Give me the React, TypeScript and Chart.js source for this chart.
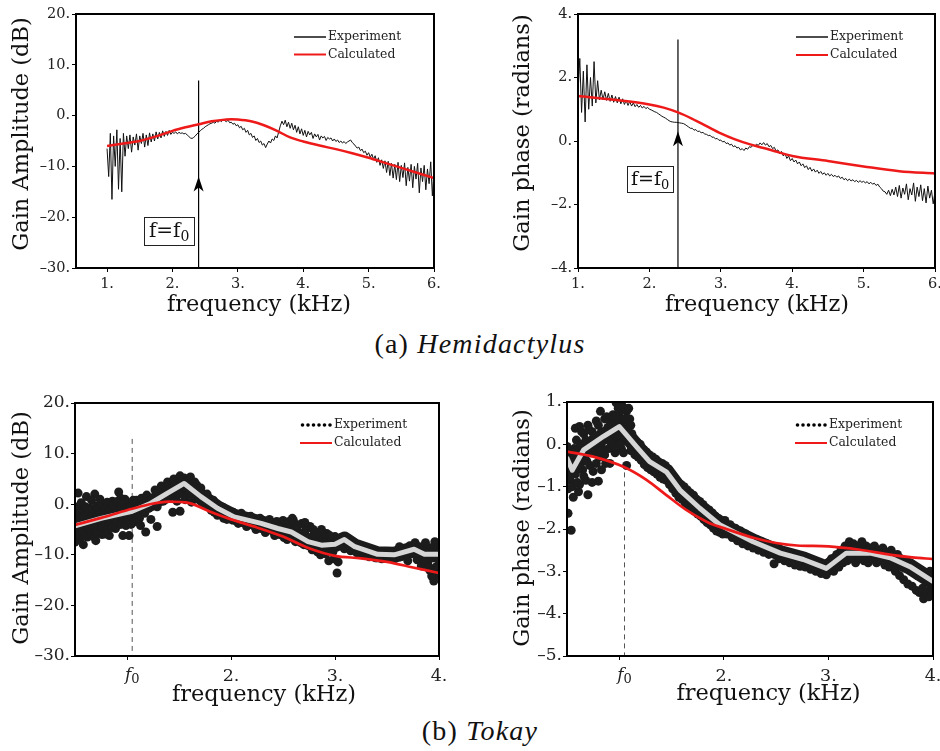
import React, { useEffect, useRef } from "react";
import { Chart, registerables } from "chart.js";

Chart.register(...registerables);

// ---------------- DATA ----------------
// (a) Hemidactylus — measured frequency grid (kHz)
const hemiFreq = [
  1, 1.025, 1.05, 1.075, 1.1, 1.125, 1.15, 1.175, 1.2, 1.225, 1.25, 1.275, 1.3, 1.325, 1.35, 1.375, 1.4, 1.425, 1.45, 1.475,
  1.5, 1.525, 1.55, 1.575, 1.6, 1.625, 1.65, 1.675, 1.7, 1.725, 1.75, 1.775, 1.8, 1.825, 1.85, 1.875, 1.9, 1.925, 1.95, 1.975,
  2, 2.025, 2.05, 2.075, 2.1, 2.125, 2.15, 2.175, 2.2, 2.225, 2.25, 2.275, 2.3, 2.325, 2.35, 2.375, 2.4, 2.425, 2.45, 2.475,
  2.5, 2.525, 2.55, 2.575, 2.6, 2.625, 2.65, 2.675, 2.7, 2.725, 2.75, 2.775, 2.8, 2.825, 2.85, 2.875, 2.9, 2.925, 2.95, 2.975,
  3, 3.025, 3.05, 3.075, 3.1, 3.125, 3.15, 3.175, 3.2, 3.225, 3.25, 3.275, 3.3, 3.325, 3.35, 3.375, 3.4, 3.425, 3.45, 3.475,
  3.5, 3.525, 3.55, 3.575, 3.6, 3.625, 3.65, 3.675, 3.7, 3.725, 3.75, 3.775, 3.8, 3.825, 3.85, 3.875, 3.9, 3.925, 3.95, 3.975,
  4, 4.025, 4.05, 4.075, 4.1, 4.125, 4.15, 4.175, 4.2, 4.225, 4.25, 4.275, 4.3, 4.325, 4.35, 4.375, 4.4, 4.425, 4.45, 4.475,
  4.5, 4.525, 4.55, 4.575, 4.6, 4.625, 4.65, 4.675, 4.7, 4.725, 4.75, 4.775, 4.8, 4.825, 4.85, 4.875, 4.9, 4.925, 4.95, 4.975,
  5, 5.025, 5.05, 5.075, 5.1, 5.125, 5.15, 5.175, 5.2, 5.225, 5.25, 5.275, 5.3, 5.325, 5.35, 5.375, 5.4, 5.425, 5.45, 5.475,
  5.5, 5.525, 5.55, 5.575, 5.6, 5.625, 5.65, 5.675, 5.7, 5.725, 5.75, 5.775, 5.8, 5.825, 5.85, 5.875, 5.9, 5.925, 5.95, 5.975,
  6,
];

const hemiAmpExp = [
  -6.5, -12, -3.5, -16.5, -4, -10, -2.8, -14.5, -4.5, -15, -3.5, -8, -4, -6.5, -3.8, -7.2, -4.2, -5.8, -3.6, -6.8,
  -4.0, -5.5, -3.5, -6.2, -3.8, -5.9, -3.4, -5.2, -3.6, -5.0, -3.2, -4.6, -3.3, -4.4, -3.0, -4.1, -3.1, -3.9, -2.9, -3.7,
  -3.3, -3.5, -3.2, -3.6, -3.3, -3.5, -3.4, -3.6, -3.5, -3.8, -4.1, -4.4, -4.5, -4.3, -4.0, -3.6, -3.3, -3.0, -2.7, -2.5,
  -2.2, -2.0, -1.8, -1.6, -1.5, -1.3, -1.5, -1.1, -1.3, -0.9, -1.2, -0.7, -1.0, -1.2, -0.9, -1.4, -1.3, -1.7, -1.5, -2.0,
  -1.8, -2.4, -2.1, -2.8, -2.5, -3.3, -2.9, -3.8, -3.5, -4.3, -4.0, -4.9, -4.5, -5.3, -5.0, -5.8, -5.5, -6.3, -5.6, -5.0,
  -5.4, -4.6, -4.9, -4.0, -4.4, -3.2, -2.0, -1.1, -1.8, -0.9, -2.2, -1.3, -2.5, -1.5, -2.8, -1.9, -3.3, -2.2, -3.6, -2.6,
  -3.9, -2.9, -4.2, -3.1, -3.8, -3.3, -4.5, -3.6, -4.2, -3.7, -4.8, -4.0, -4.4, -4.1, -4.9, -4.3, -4.6, -4.4, -5.0, -4.6,
  -5.1, -4.8, -5.3, -5.0, -5.4, -5.1, -5.5, -5.2, -5.0, -4.8, -5.3, -5.6, -6.0, -6.4, -6.2, -6.9, -6.6, -7.3, -7.0, -7.8,
  -7.3, -8.2, -7.6, -8.6, -7.9, -9.2, -8.3, -9.8, -8.7, -10.4, -8.9, -11.2, -9.0, -11.8, -9.4, -12.3, -9.6, -12.6, -9.2, -13.0,
  -9.8, -12.2, -9.3, -13.8, -10.2, -12.9, -9.6, -14.2, -10.0, -12.5, -9.4, -15.2, -10.3, -13.0, -9.8, -14.6, -10.5, -13.4, -9.1, -15.8,
  -10.5,
];

const hemiPhaseExp = [
  1.5, 2.6, 0.9, 2.2, 0.6, 2.4, 1.0, 2.0, 1.1, 2.5, 1.2, 1.9, 1.3, 1.6, 1.3, 1.55, 1.28, 1.5, 1.25, 1.45,
  1.22, 1.4, 1.2, 1.38, 1.17, 1.33, 1.15, 1.28, 1.12, 1.24, 1.1, 1.2, 1.08, 1.15, 1.06, 1.12, 1.04, 1.09, 1.02, 1.06,
  1.0, 0.98, 0.95, 0.92, 0.9, 0.86, 0.82, 0.78, 0.75, 0.72, 0.68, 0.64, 0.61, 0.6, 0.59, 0.59, 0.58, 0.57, 0.56, 0.55,
  0.52, 0.48, 0.44, 0.4, 0.4, 0.34, 0.36, 0.3, 0.31, 0.26, 0.27, 0.22, 0.21, 0.17, 0.18, 0.12, 0.12, 0.07, 0.08, 0.02,
  0.03, -0.03, -0.01, -0.08, -0.06, -0.13, -0.1, -0.18, -0.15, -0.22, -0.2, -0.28, -0.24, -0.3, -0.22, -0.26, -0.18, -0.2, -0.13, -0.16,
  -0.1, -0.14, -0.06, -0.12, -0.05, -0.13, -0.08, -0.18, -0.14, -0.24, -0.2, -0.32, -0.28, -0.4, -0.33, -0.47, -0.4, -0.55, -0.47, -0.62,
  -0.55, -0.66, -0.6, -0.72, -0.66, -0.78, -0.72, -0.84, -0.78, -0.9, -0.83, -0.95, -0.88, -0.98, -0.92, -1.02, -0.96, -1.05, -1.0, -1.08,
  -1.02, -1.1, -1.05, -1.12, -1.08, -1.14, -1.1, -1.18, -1.14, -1.22, -1.18, -1.25, -1.2, -1.26, -1.22, -1.28, -1.24, -1.3, -1.25, -1.3,
  -1.27, -1.32, -1.28, -1.35, -1.3, -1.36, -1.33, -1.4, -1.36, -1.45, -1.5, -1.58, -1.6, -1.68, -1.55, -1.72, -1.52, -1.7, -1.45, -1.75,
  -1.4, -1.8, -1.48, -1.68, -1.35, -1.85, -1.5, -1.7, -1.32, -1.9, -1.45, -1.75, -1.38, -1.88, -1.5, -1.95, -1.42, -1.8, -1.55, -1.98,
  -1.6,
];

const hemiAmpCalcFreq = [1.0, 1.25, 1.5, 1.75, 2.0, 2.2, 2.4, 2.6, 2.8, 2.9, 3.0, 3.2, 3.4, 3.6, 3.8, 4.0, 4.25, 4.5, 4.75, 5.0, 5.25, 5.5, 5.75, 6.0];
const hemiAmpCalc = [-6.0, -5.5, -5.0, -4.1, -3.0, -2.3, -1.7, -1.1, -0.8, -0.7, -0.75, -1.1, -1.9, -3.0, -4.3, -5.1, -5.9, -6.6, -7.4, -8.3, -9.3, -10.3, -11.3, -12.3];

const hemiPhaseCalcFreq = [1.0, 1.5, 2.0, 2.2, 2.4, 2.6, 2.8, 3.0, 3.2, 3.4, 3.6, 3.8, 4.0, 4.5, 5.0, 5.5, 6.0];
const hemiPhaseCalc = [1.42, 1.3, 1.15, 1.05, 0.9, 0.7, 0.47, 0.24, 0.05, -0.1, -0.22, -0.35, -0.47, -0.63, -0.8, -0.95, -1.02];

const hemiF0 = 2.4;
const hemiAmpArrow = { top: 6.9, tip: -12.0, boxX: 1.95, boxY: -22.7 };
const hemiPhaseArrow = { top: 3.2, tip: 0.31, boxX: 2.01, boxY: -1.2 };

// (b) Tokay
const tokayF0 = 1.05;
const tokayAmpTrendFreq = [0.5, 0.75, 1.05, 1.23, 1.39, 1.55, 1.71, 1.87, 2.03, 2.29, 2.45, 2.58, 2.74, 2.87, 3.0, 3.09, 3.19, 3.41, 3.57, 3.76, 3.86, 4.0];
const tokayAmpTrend = [-4.3, -2.8, -1.4, 0.2, 2.2, 4.1, 1.5, -0.8, -2.5, -3.8, -4.8, -5.5, -7.4, -8.1, -7.9, -7.0, -8.4, -9.9, -10.0, -8.9, -9.9, -9.9];
const tokayAmpCalcFreq = [0.5, 0.75, 1.0, 1.2, 1.4, 1.6, 1.8, 2.0, 2.25, 2.5, 2.75, 3.0, 3.25, 3.5, 3.75, 4.0];
const tokayAmpCalc = [-4.1, -2.7, -1.2, -0.1, 0.5, 0.2, -1.5, -3.0, -4.6, -6.4, -8.7, -10.2, -10.7, -11.4, -12.5, -13.6];
const tokayAmpDots: [number, number][] = [
  [0.5, -7.5], [0.51, -2.0], [0.52, -5.5], [0.53, 2.2], [0.53, -0.5], [0.55, -6.8], [0.56, -3.5], [0.58, -8.0], [0.59, -1.5], [0.61, 1.5],
  [0.61, -4.8], [0.62, -6.5], [0.64, -2.5], [0.65, -0.8], [0.67, -5.8], [0.68, -3.0], [0.69, 2.0], [0.7, -7.2], [0.71, -1.2], [0.73, -4.0],
  [0.74, 1.0], [0.76, -6.0], [0.77, -2.2], [0.79, -5.9], [0.79, -0.2], [0.8, -4.6], [0.82, -1.6], [0.83, -6.2], [0.85, -3.2], [0.86, 0.6],
  [0.88, -2.0], [0.89, -4.8], [0.91, -0.8], [0.92, 2.4], [0.92, -2.8], [0.94, 1.2], [0.95, -3.6], [0.96, -6.2], [0.97, -1.4], [0.99, -0.2],
  [1.0, -3.4], [1.02, -6.2], [1.02, 0.2], [1.03, -2.6], [1.05, -1.2], [1.07, -3.5], [1.09, 0.8], [1.11, -2.0], [1.13, -4.2], [1.15, 0.0],
  [0.5, -4.5], [0.5, -1.0], [0.51, -6.2], [0.52, -3.2], [0.53, -4.8], [0.54, -1.8], [0.55, -3.0], [0.56, 0.3], [0.57, -5.2], [0.58, -2.6],
  [0.59, -4.2], [0.6, -6.0], [0.6, -0.5], [0.62, -3.6], [0.63, -1.2], [0.64, -5.0], [0.65, -3.4], [0.66, 0.8], [0.67, -2.0], [0.68, -4.6],
  [0.69, -6.6], [0.7, -2.8], [0.71, -0.4], [0.72, -5.4], [0.73, -2.0], [0.75, -3.2], [0.75, 0.2], [0.76, -4.6], [0.78, -1.0], [0.78, -3.4],
  [0.8, -2.2], [0.81, 0.4], [0.81, -5.0], [0.83, -3.0], [0.84, -1.0], [0.86, -2.4], [0.86, -4.6], [0.87, -0.4], [0.89, -1.4], [0.9, -3.2],
  [0.91, 0.6], [0.93, -1.8], [0.94, -4.0], [0.95, -0.6], [0.97, -2.6], [0.98, 1.0], [0.99, -4.2], [1.0, -1.6], [1.01, -2.8], [1.03, -0.6],
  [1.04, -4.0], [1.06, 0.8], [1.08, -1.8], [1.1, -0.6], [1.12, -2.8], [1.14, 1.2], [1.16, -0.8],
  [1.17, -1.8], [1.18, -5.5], [1.19, 1.8], [1.21, -0.8], [1.23, -3.0], [1.25, 1.2], [1.27, 2.8], [1.29, -4.4], [1.29, -0.5], [1.31, 1.8],
  [1.33, 3.6], [1.35, 0.6], [1.37, 2.6], [1.39, 4.4], [1.41, 1.4], [1.43, 3.4], [1.44, -1.6], [1.45, 5.0], [1.47, 2.2], [1.48, 0.6],
  [1.49, 4.0], [1.51, 5.6], [1.51, -1.4], [1.53, 2.8], [1.55, 5.2], [1.56, 0.9], [1.57, 1.8], [1.59, 4.6], [1.61, 5.4], [1.62, 0.4],
  [1.63, 2.2], [1.65, 4.4], [1.67, 3.8], [1.69, 1.0], [1.71, 3.2], [1.73, 1.8], [1.75, -0.2], [1.77, 2.0], [1.79, 0.6], [1.81, -1.2],
  [1.83, 0.8], [1.85, -0.6], [1.87, -2.2], [1.89, -0.4], [1.91, -1.6], [1.93, -2.8], [1.95, -1.4], [1.97, -2.4],
  [1.22, 0.6], [1.26, 0.0], [1.3, 2.4], [1.34, 1.8], [1.38, 1.0], [1.42, 2.6], [1.46, 3.6], [1.5, 2.0], [1.52, 4.4], [1.54, 3.6],
  [1.58, 3.0], [1.6, 2.2], [1.64, 3.2], [1.68, 2.6], [1.72, 0.4], [1.76, 1.0], [1.8, -0.2], [1.84, -1.6], [1.88, -1.2], [1.92, -0.6], [1.96, -3.0],
  [2.02, -1.6], [2.05, -3.2], [2.08, -2.2], [2.11, -3.6], [2.14, -2.8], [2.17, -4.0], [2.2, -3.0], [2.23, -4.4], [2.26, -3.4], [2.29, -4.8],
  [2.32, -3.6], [2.35, -5.0], [2.38, -3.8], [2.41, -5.4], [2.44, -3.4], [2.47, -6.0], [2.5, -3.2], [2.52, -5.2], [2.54, -7.0], [2.56, -3.4],
  [2.58, -5.8], [2.6, -3.2], [2.62, -7.4], [2.64, -4.2], [2.66, -6.2], [2.68, -3.8], [2.7, -8.0], [2.72, -5.0], [2.74, -6.6], [2.76, -4.4],
  [2.78, -9.0], [2.8, -6.0], [2.82, -7.6], [2.84, -5.6], [2.86, -10.0], [2.88, -6.6], [2.9, -8.6], [2.92, -5.8], [2.94, -11.2], [2.96, -7.0],
  [2.98, -9.4], [3.0, -6.4], [3.02, -13.6], [3.04, -8.2],
  [2.03, -2.8], [2.07, -3.8], [2.1, -1.8], [2.15, -4.4], [2.19, -2.4], [2.24, -5.0], [2.28, -2.8], [2.33, -5.6], [2.37, -3.0], [2.42, -6.2],
  [2.46, -4.4], [2.51, -6.6], [2.55, -5.0], [2.59, -2.8], [2.63, -5.8], [2.67, -7.6], [2.71, -3.6], [2.75, -8.2], [2.79, -5.0], [2.83, -9.4],
  [2.87, -5.0], [2.91, -9.8], [2.95, -6.2], [2.99, -10.8], [3.01, -7.4], [3.03, -11.4],
  [3.06, -6.6], [3.09, -8.8], [3.12, -7.8], [3.15, -9.2], [3.18, -8.0], [3.21, -9.6],
  [3.24, -8.6], [3.27, -10.0], [3.3, -9.0], [3.33, -10.4], [3.36, -9.4], [3.39, -10.6], [3.42, -9.6], [3.45, -10.8], [3.48, -9.8], [3.51, -10.6],
  [3.54, -9.6], [3.57, -10.8], [3.6, -9.4], [3.63, -10.4], [3.66, -8.8], [3.69, -10.0], [3.72, -8.2], [3.75, -9.8], [3.77, -7.6], [3.79, -11.0],
  [3.81, -8.4], [3.83, -12.2], [3.85, -9.2], [3.87, -7.6], [3.89, -11.6], [3.91, -13.0], [3.92, -8.6], [3.94, -10.6], [3.95, -15.2], [3.96, -7.4],
  [3.97, -12.4], [3.98, -9.0], [3.99, -14.0], [4.0, -7.8], [4.0, -11.2],
  [3.62, -8.4], [3.7, -11.2], [3.78, -9.0], [3.84, -10.6], [3.88, -9.6], [3.9, -12.4], [3.93, -14.2], [3.96, -10.0], [3.99, -12.8], [4.0, -9.6],
];

const tokayPhaseTrendFreq = [0.5, 0.55, 0.66, 0.85, 1.0, 1.07, 1.18, 1.29, 1.45, 1.58, 1.77, 1.96, 2.28, 2.54, 2.76, 2.98, 3.17, 3.4, 3.59, 3.78, 4.0];
const tokayPhaseTrend = [-0.33, -0.61, -0.13, 0.19, 0.42, 0.22, -0.1, -0.41, -0.65, -1.08, -1.51, -1.9, -2.3, -2.57, -2.72, -2.93, -2.57, -2.57, -2.68, -2.89, -3.24];
const tokayPhaseCalcFreq = [0.5, 0.75, 1.04, 1.26, 1.45, 1.64, 1.87, 2.0, 2.3, 2.5, 2.7, 3.0, 3.3, 3.6, 3.8, 4.0];
const tokayPhaseCalc = [-0.17, -0.29, -0.53, -0.84, -1.2, -1.55, -1.87, -1.98, -2.22, -2.33, -2.39, -2.41, -2.49, -2.61, -2.67, -2.71];
const tokayPhaseDots: [number, number][] = [
  [0.5, -0.05], [0.5, -0.55], [0.51, -1.05], [0.51, -1.63], [0.52, -0.3], [0.53, -0.85], [0.54, -2.03], [0.55, -0.45], [0.56, -1.25], [0.57, -0.1],
  [0.58, 0.38], [0.58, -0.7], [0.6, -0.35], [0.61, -1.12], [0.62, 0.42], [0.62, -0.95], [0.63, 0.0], [0.65, -0.6], [0.66, 0.25], [0.67, -0.3],
  [0.68, -0.85], [0.7, 0.45], [0.7, -1.19], [0.71, 0.0], [0.72, -0.5], [0.74, 0.3], [0.75, 0.14], [0.75, -0.64], [0.76, -0.2], [0.78, 0.55],
  [0.79, 0.05], [0.8, -0.87], [0.81, -0.3], [0.82, 0.78], [0.83, 0.3], [0.84, -0.1], [0.86, 0.6], [0.87, -0.45], [0.88, 0.15], [0.89, 0.4],
  [0.91, 0.55], [0.91, -0.45], [0.92, 0.05], [0.94, 0.7], [0.95, 0.3], [0.96, -0.2], [0.97, 0.98], [0.98, 0.5], [0.99, 0.1], [1.0, 0.75],
  [1.01, 0.35], [1.02, -0.1], [1.03, 0.6], [1.04, -0.2], [1.05, 0.85], [1.06, 0.3], [1.07, 0.78], [1.07, -0.5], [1.08, 0.1], [1.09, 0.55],
  [1.1, 0.6], [1.11, -0.15],
  [0.52, -0.75], [0.54, -0.15], [0.55, -1.0], [0.57, -0.6], [0.59, 0.1], [0.6, -0.9], [0.63, -0.45], [0.64, 0.3], [0.66, -0.75], [0.68, 0.1],
  [0.69, -0.4], [0.71, 0.35], [0.73, -0.2], [0.74, -0.9], [0.77, 0.2], [0.78, -0.45], [0.8, 0.45], [0.82, -0.15], [0.83, -0.6], [0.85, 0.25],
  [0.86, -0.25], [0.88, 0.65], [0.9, -0.1], [0.9, 0.3], [0.93, 0.45], [0.94, -0.05], [0.96, 0.65], [0.97, 0.2], [0.99, 0.85], [1.0, 0.4],
  [1.01, 0.0], [1.03, 0.9], [1.04, 0.45], [1.06, 0.6], [1.08, 0.35], [1.09, 0.85], [1.1, 0.2], [1.11, 0.45],
  [1.12, 0.25], [1.12, -0.12], [1.14, 0.1], [1.15, -0.25], [1.17, 0.05], [1.18, -0.3], [1.2, 0.0], [1.21, -0.38],
  [1.23, -0.12], [1.24, -0.48], [1.26, -0.18], [1.27, -0.55], [1.29, -0.25], [1.3, -0.6], [1.32, -0.3], [1.33, -0.65], [1.35, -0.35], [1.36, -0.7],
  [1.38, -0.42], [1.39, -0.78], [1.41, -0.45], [1.42, -0.82], [1.44, -0.5], [1.45, -0.85], [1.47, -0.58], [1.48, -0.95], [1.5, -0.7], [1.51, -1.05],
  [1.53, -0.8], [1.54, -1.15], [1.56, -0.9], [1.57, -1.25], [1.59, -0.95], [1.6, -1.3], [1.62, -1.0], [1.63, -1.38], [1.65, -1.08], [1.66, -1.45],
  [1.68, -1.15], [1.69, -1.5], [1.71, -1.2], [1.72, -1.58], [1.74, -1.3], [1.75, -1.65], [1.77, -1.35], [1.78, -1.7], [1.8, -1.42], [1.81, -1.78],
  [1.83, -1.5], [1.84, -1.85], [1.86, -1.55], [1.87, -1.9], [1.89, -1.62], [1.9, -1.98], [1.92, -1.7], [1.93, -2.05], [1.95, -1.75], [1.96, -2.08],
  [1.98, -1.8], [1.99, -2.12], [2.01, -1.8], [2.03, -2.12], [2.06, -1.9], [2.08, -2.2], [2.11, -1.98], [2.13, -2.28], [2.16, -2.05], [2.18, -2.35],
  [2.21, -2.12], [2.23, -2.4], [2.26, -2.2], [2.28, -2.45], [2.31, -2.25], [2.33, -2.5], [2.36, -2.3], [2.38, -2.55], [2.41, -2.35], [2.43, -2.6],
  [2.46, -2.42], [2.48, -2.82], [2.5, -2.45], [2.53, -2.7], [2.55, -2.5], [2.58, -2.75], [2.6, -2.55], [2.63, -2.8], [2.65, -2.6], [2.68, -2.85],
  [2.7, -2.62], [2.73, -2.88], [2.75, -2.65], [2.78, -2.9], [2.8, -2.72], [2.83, -2.95], [2.85, -2.78], [2.88, -3.0], [2.9, -2.82], [2.93, -3.05],
  [2.95, -2.85], [2.98, -3.08], [3.0, -2.85], [3.03, -2.7], [3.05, -3.0], [3.08, -2.6], [3.1, -2.9], [3.12, -2.5], [3.14, -2.8], [3.16, -2.4],
  [3.18, -2.75], [3.2, -2.3], [3.22, -2.7], [3.24, -2.35], [3.26, -2.8], [3.28, -2.4], [3.3, -2.7], [3.32, -2.3], [3.34, -2.75], [3.36, -2.4],
  [3.38, -2.8], [3.4, -2.45], [3.42, -2.7], [3.44, -2.4], [3.46, -2.8], [3.48, -2.5], [3.5, -2.75], [3.52, -2.45], [3.54, -2.85], [3.56, -2.55],
  [3.58, -2.9], [3.6, -2.5], [3.62, -2.8], [3.64, -3.0], [3.66, -2.6], [3.68, -3.1], [3.7, -2.75], [3.72, -3.2], [3.74, -2.8], [3.76, -3.3],
  [3.78, -2.9], [3.8, -3.35], [3.82, -2.95], [3.84, -3.45], [3.85, -3.1], [3.87, -3.5], [3.88, -3.0], [3.9, -3.4], [3.91, -3.65], [3.92, -3.1],
  [3.94, -3.5], [3.95, -3.2], [3.96, -3.6], [3.97, -3.0], [3.98, -3.4], [3.99, -3.55], [4.0, -3.1], [4.0, -3.35],
];

// tick values and labels
const hemiFreqTicks = [1, 2, 3, 4, 5, 6];
const hemiFreqTickLabels = ["1.", "2.", "3.", "4.", "5.", "6."];
const ampTicks = [-30, -20, -10, 0, 10, 20];
const hemiAmpTickLabels = ["–30.", "–20.", "–10.", "0.", "10.", "20."];
const hemiPhaseTicks = [-4, -2, 0, 2, 4];
const hemiPhaseTickLabels = ["–4.", "–2.", "0.", "2.", "4."];
const tokayFreqTicks = [1, 2, 3, 4];
const tokayFreqTickLabels = ["", "2.", "3.", "4."];
const tokayAmpTickLabels = ["–30.", "–20.", "–10.", "0.", "10.", "20."];
const tokayPhaseTicks = [-5, -4, -3, -2, -1, 0, 1];
const tokayPhaseTickLabels = ["–5.", "–4.", "–3.", "–2.", "–1.", "0.", "1."];

// ---------------- STYLE ----------------
const SERIF = "'DejaVu Serif', serif";
const RED = "#ee1a1a";
const INK = "#1c1c1c";
const GREY = "#d6d6d6";

const pts = (xs: number[], ys: number[]) => xs.map((x, i) => ({ x, y: ys[i] }));
const pairPts = (p: [number, number][]) => p.map(([x, y]) => ({ x, y }));

function axis(o: {
  min: number; max: number; ticks: number[]; labels: string[];
  size: number; font: number; pad: number; horizontal: boolean;
}) {
  return {
    type: "linear",
    min: o.min,
    max: o.max,
    afterBuildTicks: (s: any) => {
      s.ticks = o.ticks.map((v) => ({ value: v }));
    },
    afterFit: (s: any) => {
      if (o.horizontal) s.height = o.size;
      else s.width = o.size;
      s.paddingLeft = 0;
      s.paddingRight = 0;
      s.paddingTop = 0;
      s.paddingBottom = 0;
    },
    ticks: {
      autoSkip: false,
      maxRotation: 0,
      minRotation: 0,
      padding: o.pad,
      color: "#222",
      font: { family: SERIF, size: o.font },
      callback: (_v: any, i: number) => o.labels[i],
    },
    grid: { display: true, drawOnChartArea: false, drawTicks: true, tickLength: 4, color: "#000", lineWidth: 1 },
    border: { display: true, color: "#000", width: 2 },
  };
}

interface Decor {
  yTitle: string; yPos: [number, number];
  xTitle: string; xPos: [number, number];
  legendX: number; legendY: number; legendGap: number; expDots: boolean;
  arrow?: { x: number; tip: number; boxX: number; boxY: number; boxW: number; boxH: number; font: number };
  f0?: number;
}

function decorPlugin(d: Decor) {
  return {
    id: "figureDecor",
    afterDatasetsDraw(chart: any) {
      const ctx = chart.ctx as CanvasRenderingContext2D;
      const xs = chart.scales.x, ys = chart.scales.y;
      if (d.arrow) {
        const a = d.arrow;
        const px = xs.getPixelForValue(a.x), py = ys.getPixelForValue(a.tip);
        ctx.save();
        ctx.fillStyle = "#000";
        ctx.beginPath();
        ctx.moveTo(px, py);
        ctx.lineTo(px - 5, py + 15);
        ctx.lineTo(px, py + 11);
        ctx.lineTo(px + 5, py + 15);
        ctx.closePath();
        ctx.fill();
        // f=f0 box
        const cx = xs.getPixelForValue(a.boxX), cy = ys.getPixelForValue(a.boxY);
        ctx.fillStyle = "#fff";
        ctx.fillRect(cx - a.boxW / 2, cy - a.boxH / 2, a.boxW, a.boxH);
        ctx.strokeStyle = "#222";
        ctx.lineWidth = 1;
        ctx.strokeRect(Math.round(cx - a.boxW / 2) + 0.5, Math.round(cy - a.boxH / 2) + 0.5, a.boxW, a.boxH);
        ctx.fillStyle = "#111";
        ctx.font = `${a.font}px ${SERIF}`;
        const main = "f=f";
        const w1 = ctx.measureText(main).width;
        ctx.font = `${Math.round(a.font * 0.7)}px ${SERIF}`;
        const w2 = ctx.measureText("0").width;
        const sx = cx - (w1 + w2) / 2;
        const base = cy + a.font * 0.32;
        ctx.font = `${a.font}px ${SERIF}`;
        ctx.textBaseline = "alphabetic";
        ctx.textAlign = "left";
        ctx.fillText(main, sx, base);
        ctx.font = `${Math.round(a.font * 0.7)}px ${SERIF}`;
        ctx.fillText("0", sx + w1, base + a.font * 0.2);
        ctx.restore();
      }
    },
    afterDraw(chart: any) {
      const ctx = chart.ctx as CanvasRenderingContext2D;
      const { left, top, right, bottom } = chart.chartArea;
      ctx.save();
      // frame
      ctx.strokeStyle = "#000";
      ctx.lineWidth = 2;
      ctx.strokeRect(left, top, right - left, bottom - top);
      // axis titles
      ctx.fillStyle = "#111";
      ctx.font = `22.5px ${SERIF}`;
      ctx.textAlign = "center";
      ctx.textBaseline = "middle";
      ctx.fillText(d.xTitle, d.xPos[0], d.xPos[1]);
      ctx.save();
      ctx.translate(d.yPos[0], d.yPos[1]);
      ctx.rotate(-Math.PI / 2);
      ctx.fillText(d.yTitle, 0, 0);
      ctx.restore();
      // legend
      const rows = [
        { label: "Experiment", color: "#000", dots: d.expDots, w: 1.4 },
        { label: "Calculated", color: RED, dots: false, w: 2 },
      ];
      rows.forEach((r, i) => {
        const y = d.legendY + i * d.legendGap;
        if (r.dots) {
          ctx.fillStyle = "#000";
          for (let k = 0; k < 6; k++) {
            ctx.beginPath();
            ctx.arc(d.legendX + 2.5 + k * 5.5, y, 1.8, 0, Math.PI * 2);
            ctx.fill();
          }
        } else {
          ctx.strokeStyle = r.color;
          ctx.lineWidth = r.w;
          ctx.beginPath();
          ctx.moveTo(d.legendX, y);
          ctx.lineTo(d.legendX + 32, y);
          ctx.stroke();
        }
        ctx.fillStyle = "#222";
        ctx.font = `12.4px ${SERIF}`;
        ctx.textAlign = "left";
        ctx.textBaseline = "middle";
        ctx.fillText(r.label, d.legendX + 34, y);
      });
      // f0 label on the frequency axis
      if (d.f0 !== undefined) {
        const px = chart.scales.x.getPixelForValue(d.f0);
        ctx.fillStyle = "#222";
        ctx.textBaseline = "alphabetic";
        ctx.textAlign = "left";
        ctx.font = `italic 17px ${SERIF}`;
        const w1 = ctx.measureText("f").width;
        ctx.font = `13px ${SERIF}`;
        const w2 = ctx.measureText("0").width;
        const sx = px - (w1 + w2) / 2;
        ctx.font = `italic 17px ${SERIF}`;
        ctx.fillText("f", sx, bottom + 24);
        ctx.font = `13px ${SERIF}`;
        ctx.fillText("0", sx + w1, bottom + 27);
      }
      ctx.restore();
    },
  };
}

function baseOptions(padding: any, scales: any) {
  return {
    responsive: false,
    animation: false,
    devicePixelRatio: 1,
    events: [],
    layout: { padding },
    plugins: { legend: { display: false }, tooltip: { enabled: false }, title: { display: false } },
    scales,
  };
}

const lineDs = (data: any[], color: string, width: number, order: number, extra: any = {}) => ({
  data,
  showLine: true,
  borderColor: color,
  borderWidth: width,
  pointRadius: 0,
  tension: 0,
  order,
  ...extra,
});

function hemiAmpConfig() {
  return {
    type: "scatter",
    data: {
      datasets: [
        lineDs(pts(hemiAmpCalcFreq, hemiAmpCalc), RED, 2.5, 0, { cubicInterpolationMode: "monotone" }),
        lineDs(pts(hemiFreq, hemiAmpExp), "#111", 1, 1),
        lineDs([{ x: hemiF0, y: hemiAmpArrow.top }, { x: hemiF0, y: -30 }], "#000", 1.2, 2),
      ],
    },
    options: baseOptions({ left: 0, top: 14, right: 16, bottom: 0 }, {
      x: axis({ min: 0.525, max: 6, ticks: hemiFreqTicks, labels: hemiFreqTickLabels, size: 52, font: 14.5, pad: 4, horizontal: true }),
      y: axis({ min: -30, max: 20, ticks: ampTicks, labels: hemiAmpTickLabels, size: 76, font: 14.5, pad: 2, horizontal: false }),
    }),
    plugins: [decorPlugin({
      yTitle: "Gain Amplitude (dB)", yPos: [22.5, 134],
      xTitle: "frequency (kHz)", xPos: [259, 305],
      legendX: 294, legendY: 37, legendGap: 17.5, expDots: false,
      arrow: { x: hemiF0, tip: hemiAmpArrow.tip, boxX: hemiAmpArrow.boxX, boxY: hemiAmpArrow.boxY, boxW: 50, boxH: 28, font: 20 },
    })],
  };
}

function hemiPhaseConfig() {
  return {
    type: "scatter",
    data: {
      datasets: [
        lineDs(pts(hemiPhaseCalcFreq, hemiPhaseCalc), RED, 2.5, 0, { cubicInterpolationMode: "monotone" }),
        lineDs(pts(hemiFreq, hemiPhaseExp), "#111", 1, 1),
        lineDs([{ x: hemiF0, y: hemiPhaseArrow.top }, { x: hemiF0, y: -4 }], "#000", 1.2, 2),
      ],
    },
    options: baseOptions({ left: 0, top: 14, right: 5, bottom: 0 }, {
      x: axis({ min: 1, max: 6, ticks: hemiFreqTicks, labels: hemiFreqTickLabels, size: 52, font: 14.5, pad: 4, horizontal: true }),
      y: axis({ min: -4, max: 4, ticks: hemiPhaseTicks, labels: hemiPhaseTickLabels, size: 108, font: 14.5, pad: 2, horizontal: false }),
    }),
    plugins: [decorPlugin({
      yTitle: "Gain phase (radians)", yPos: [53, 133],
      xTitle: "frequency (kHz)", xPos: [287, 305],
      legendX: 326, legendY: 37, legendGap: 18, expDots: false,
      arrow: { x: hemiF0, tip: hemiPhaseArrow.tip, boxX: hemiPhaseArrow.boxX, boxY: hemiPhaseArrow.boxY, boxW: 46, boxH: 26, font: 19 },
    })],
  };
}

function tokayConfig(kind: "amp" | "phase") {
  const amp = kind === "amp";
  const dots = amp ? tokayAmpDots : tokayPhaseDots;
  const trend = amp ? pts(tokayAmpTrendFreq, tokayAmpTrend) : pts(tokayPhaseTrendFreq, tokayPhaseTrend);
  const calc = amp ? pts(tokayAmpCalcFreq, tokayAmpCalc) : pts(tokayPhaseCalcFreq, tokayPhaseCalc);
  const dash = amp ? [{ x: tokayF0, y: 12.9 }, { x: tokayF0, y: -30 }] : [{ x: tokayF0, y: -0.45 }, { x: tokayF0, y: -5 }];
  return {
    type: "scatter",
    data: {
      datasets: [
        lineDs(calc, RED, 2.7, 0, { cubicInterpolationMode: "monotone" }),
        lineDs(trend, GREY, 5, 1, { borderJoinStyle: "round", borderCapStyle: "round" }),
        { data: pairPts(dots), showLine: false, pointRadius: 4.5, pointBackgroundColor: INK, pointBorderWidth: 0, order: 2, clip: 0 },
        lineDs(trend, INK, 16, 3, { borderJoinStyle: "round", clip: 0 }),
        lineDs(dash, "#555", 1, 4, { borderDash: [5, 4] }),
      ],
    },
    options: baseOptions(amp ? { left: 0, top: 23, right: 21, bottom: 0 } : { left: 0, top: 22, right: 7, bottom: 0 }, {
      x: axis({ min: 0.5, max: 4, ticks: tokayFreqTicks, labels: tokayFreqTickLabels, size: 54, font: 17.5, pad: 6, horizontal: true }),
      y: amp
        ? axis({ min: -30, max: 20, ticks: ampTicks, labels: tokayAmpTickLabels, size: 75, font: 17, pad: 1, horizontal: false })
        : axis({ min: -5, max: 1, ticks: tokayPhaseTicks, labels: tokayPhaseTickLabels, size: 97, font: 17, pad: 1, horizontal: false }),
    }),
    plugins: [decorPlugin(amp ? {
      yTitle: "Gain Amplitude (dB)", yPos: [22, 148],
      xTitle: "frequency (kHz)", xPos: [264, 315],
      legendX: 300, legendY: 45, legendGap: 18, expDots: true, f0: tokayF0,
    } : {
      yTitle: "Gain phase (radians)", yPos: [53, 148],
      xTitle: "frequency (kHz)", xPos: [298.5, 314],
      legendX: 325, legendY: 45, legendGap: 18, expDots: true, f0: tokayF0,
    })],
  };
}

function Plot(props: { build: () => any; left: number; top: number; width: number; height: number }) {
  const ref = useRef<HTMLCanvasElement>(null);
  useEffect(() => {
    const chart = new Chart(ref.current as HTMLCanvasElement, props.build());
    return () => chart.destroy();
  }, []);
  return (
    <canvas
      ref={ref}
      width={props.width}
      height={props.height}
      style={{ position: "absolute", left: props.left, top: props.top, width: props.width, height: props.height, display: "block" }}
    />
  );
}

const captionStyle: React.CSSProperties = {
  position: "absolute",
  left: 0,
  width: 960,
  textAlign: "center",
  fontFamily: '"Liberation Serif", Tinos, "Times New Roman", Times, serif',
  fontSize: 28,
  lineHeight: "28px",
  letterSpacing: "1.2px",
  color: "#111",
  whiteSpace: "nowrap",
};

export default function App() {
  return (
    <div style={{ position: "absolute", left: 0, top: 0, width: 940, height: 751, background: "#fff", overflow: "hidden" }}>
      <Plot build={hemiAmpConfig} left={0} top={0} width={450} height={320} />
      <Plot build={hemiPhaseConfig} left={470} top={0} width={470} height={320} />
      <div style={{ ...captionStyle, top: 330 }}>
        (a) <i>Hemidactylus</i>
      </div>
      <Plot build={() => tokayConfig("amp")} left={0} top={380} width={460} height={330} />
      <Plot build={() => tokayConfig("phase")} left={470} top={380} width={470} height={330} />
      <div style={{ ...captionStyle, top: 717 }}>
        (b) <i>Tokay</i>
      </div>
    </div>
  );
}
